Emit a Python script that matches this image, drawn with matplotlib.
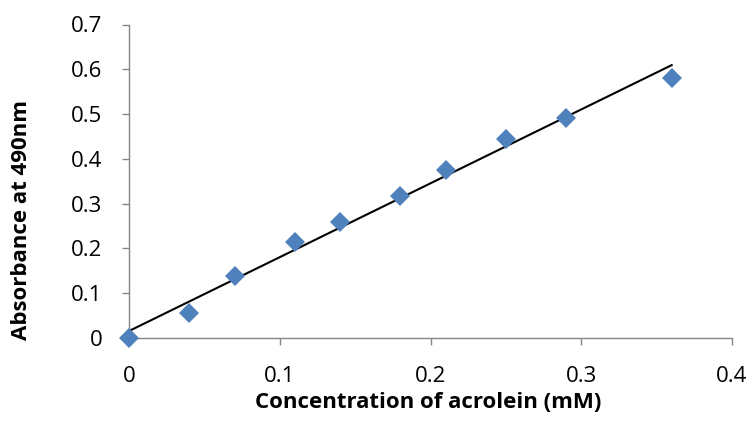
import numpy as np
import matplotlib
matplotlib.use("Agg")
import matplotlib.pyplot as plt

conc = [0.0, 0.04, 0.07, 0.11, 0.14, 0.18, 0.21, 0.25, 0.29, 0.36]
absorb = [0.0, 0.056, 0.138, 0.215, 0.258, 0.318, 0.375, 0.445, 0.492, 0.580]
x_ticks = [0, 0.1, 0.2, 0.3, 0.4]
x_tick_labels = ["0", "0.1", "0.2", "0.3", "0.4"]
y_ticks = [0, 0.1, 0.2, 0.3, 0.4, 0.5, 0.6, 0.7]
y_tick_labels = ["0", "0.1", "0.2", "0.3", "0.4", "0.5", "0.6", "0.7"]

plt.rcParams['font.family'] = ['Open Sans', 'DejaVu Sans']

W, H = 750, 442
fig = plt.figure(figsize=(W / 100, H / 100), dpi=100)
ax = fig.add_axes([129 / W, 1 - 338 / H, (732 - 129) / W, (338 - 24.5) / H])

slope, intercept = np.polyfit(conc, absorb, 1)
xf = np.array([0.0, max(conc)])
ax.plot(xf, slope * xf + intercept, color='black', lw=1.5, zorder=2)
ax.plot(conc, absorb, linestyle='none', marker='D', markersize=10.5,
        color='#4F81BD', markeredgewidth=0, zorder=3, clip_on=False)

ax.set_xlim(0, 0.4)
ax.set_ylim(0, 0.7)
ax.set_xticks(x_ticks)
ax.set_xticklabels(x_tick_labels)
ax.set_yticks(y_ticks)
ax.set_yticklabels(y_tick_labels)

grey = '#868686'
for s in ['top', 'right']:
    ax.spines[s].set_visible(False)
for s in ['left', 'bottom']:
    ax.spines[s].set_color(grey)
    ax.spines[s].set_linewidth(1.0)
ax.tick_params(axis='both', direction='out', length=5, width=1.0, color=grey,
               labelsize=16, labelcolor='black')
ax.tick_params(axis='x', pad=15)
ax.tick_params(axis='y', pad=14)

fig.text(22 / W, 1 - 220 / H, 'Absorbance at 490nm', rotation=90,
         ha='center', va='center', fontsize=16, fontweight='bold')
fig.text(428 / W, 1 - 403 / H, 'Concentration of acrolein (mM)',
         ha='center', va='center', fontsize=16, fontweight='bold')

fig.savefig('out.png', dpi=100)
